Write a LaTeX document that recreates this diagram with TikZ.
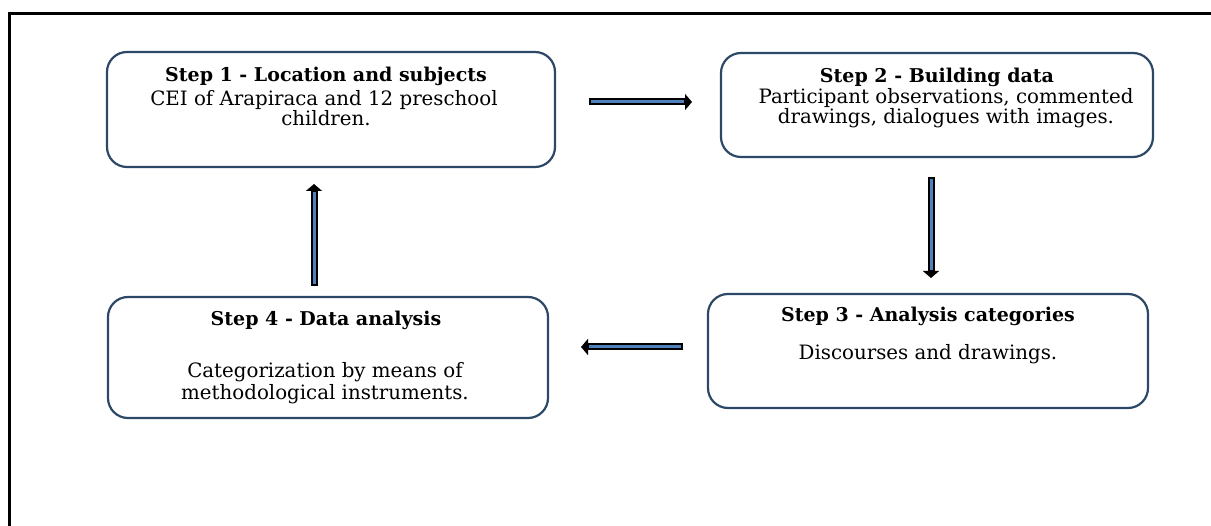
\documentclass[tikz,border=0pt]{standalone}
\usepackage{fontspec}
\setmainfont{DejaVu Serif}
\usetikzlibrary{arrows.meta}
\definecolor{boxline}{RGB}{44,72,102}
\definecolor{arrowblue}{RGB}{79,129,189}
\tikzset{
  stepbox/.style={draw=boxline, line width=2.2pt, rounded corners=20pt, inner sep=0pt},
  steptitle/.style={anchor=base, inner sep=0pt, font=\fontsize{19}{22}\selectfont\bfseries},
  steptext/.style={anchor=base, inner sep=0pt, font=\fontsize{19.8}{22}\selectfont},
  arrowouter/.style={draw=black, line width=7pt, -{Triangle[width=16pt,length=7pt]}},
  arrowinner/.style={draw=arrowblue, line width=3pt, shorten <=2pt, shorten >=8pt},
}
\begin{document}
\begin{tikzpicture}[x=1pt,y=-1pt]
\useasboundingbox (0,0) rectangle (1211,526);
\begin{scope}
\clip (0,0) rectangle (1211,526);
\draw[line width=3pt] (9.7,13.7) rectangle (1240,560);
\end{scope}
% boxes
\node[stepbox, minimum width=448pt, minimum height=115pt] (b1) at (331,109.5) {};
\node[stepbox, minimum width=432pt, minimum height=104pt] (b2) at (937,105) {};
\node[stepbox, minimum width=440pt, minimum height=114pt] (b3) at (928,351) {};
\node[stepbox, minimum width=440pt, minimum height=121pt] (b4) at (328,357.5) {};
% texts
\node[steptitle] (t1) at (326,82) {Step 1 - Location and subjects};
\node[steptext] (l1a) at (324,106) {CEI of Arapiraca and 12 preschool};
\node[steptext] (l1b) at (326,126) {children.};
\node[steptitle] (t2) at (937,83) {Step 2 - Building data};
\node[steptext] (l2a) at (946,104) {Participant observations, commented};
\node[steptext] (l2b) at (946,124) {drawings, dialogues with images.};
\node[steptitle] (t3) at (928,322) {Step 3 - Analysis categories};
\node[steptext] (l3a) at (928,360) {Discourses and drawings.};
\node[steptitle] (t4) at (326,326) {Step 4 - Data analysis};
\node[steptext] (l4a) at (325,378) {Categorization by means of};
\node[steptext] (l4b) at (325,400) {methodological instruments.};
% arrow end points
\coordinate (r1) at (589,102);
\coordinate (r2) at (692,102);
\coordinate (d1) at (931,177);
\coordinate (d2) at (931,278);
\coordinate (u1) at (314,286);
\coordinate (u2) at (314,184);
\coordinate (g1) at (683,347);
\coordinate (g2) at (581,347);
\foreach \a/\b in {r1/r2,d1/d2,u1/u2,g1/g2}{
  \draw[arrowouter] (\a) -- (\b);
  \draw[arrowinner] (\a) -- (\b);
}
\end{tikzpicture}
\end{document}
